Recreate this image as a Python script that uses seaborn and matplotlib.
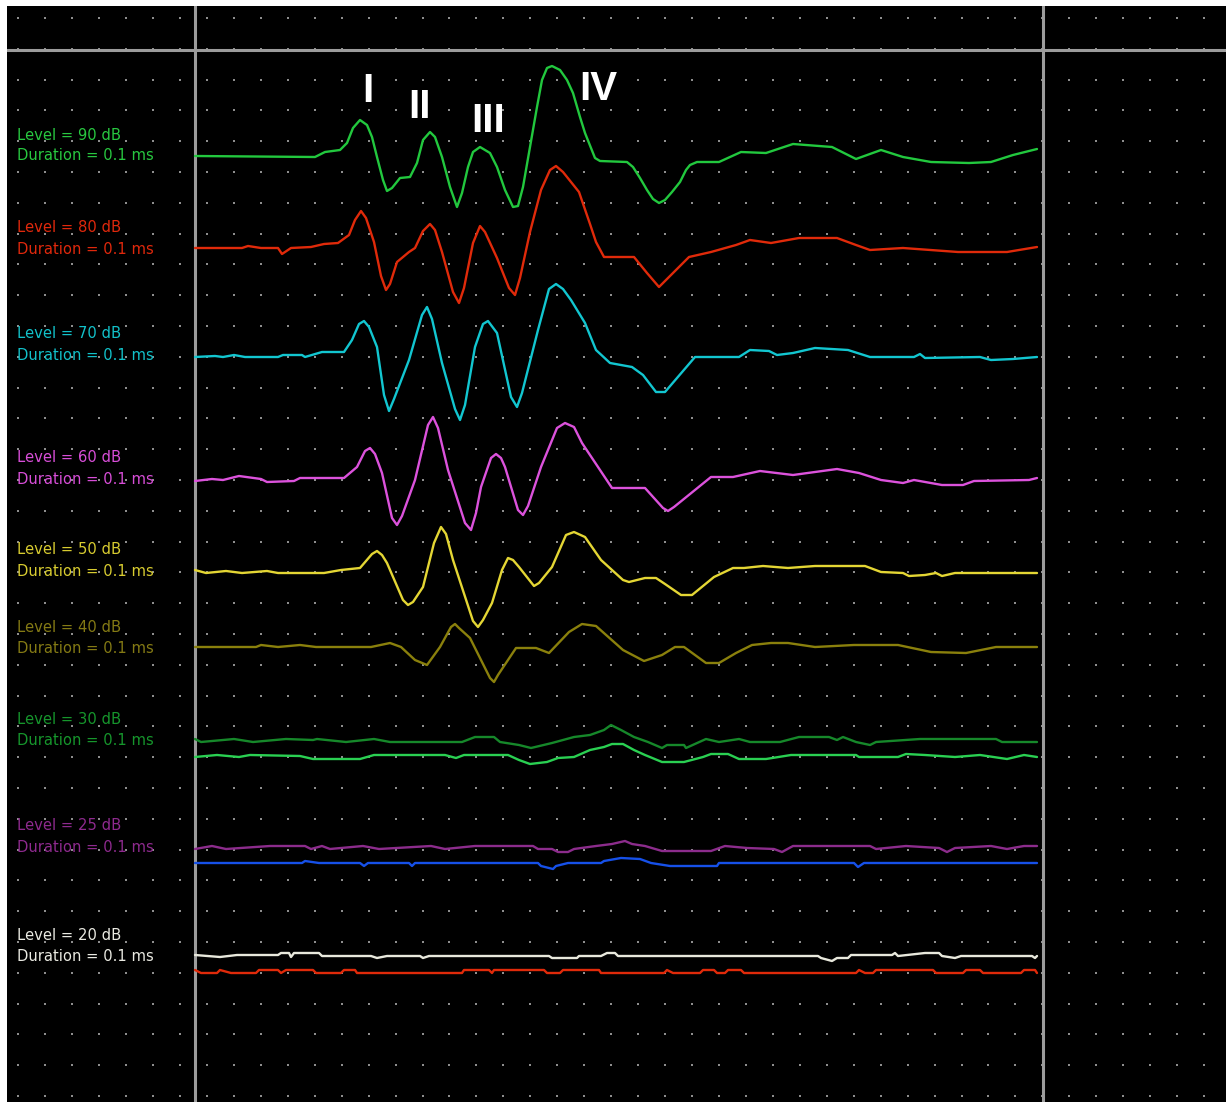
import numpy as np
import pandas as pd
import matplotlib
matplotlib.use("Agg")
import matplotlib.pyplot as plt
import seaborn as sns

# ---------------------------------------------------------------------------
# Stimulus settings
# ---------------------------------------------------------------------------
levels = [90, 80, 70, 60, 50, 40, 30, 25, 20]          # dB
duration_ms = 0.1
wave_names = ["I", "II", "III", "IV"]

# ---------------------------------------------------------------------------
# Averaged ABR sweeps: time (ms) and amplitude (uV)
# ---------------------------------------------------------------------------
t_90 = [0.00, 1.20, 1.30, 1.45, 1.52, 1.58, 1.65, 1.72, 1.77, 1.82, 1.88, 1.92, 1.97,
        2.05, 2.15, 2.22, 2.28, 2.35, 2.40, 2.47, 2.55, 2.62, 2.67, 2.73, 2.78, 2.85,
        2.95, 3.02, 3.10, 3.18, 3.23, 3.28, 3.35, 3.42, 3.47, 3.52, 3.57, 3.65, 3.72,
        3.78, 3.85, 3.90, 4.00, 4.05, 4.32, 4.38, 4.45, 4.52, 4.58, 4.64, 4.70, 4.77,
        4.85, 4.91, 4.95, 5.02, 5.24, 5.46, 5.71, 5.98, 6.37, 6.61, 6.86, 7.08, 7.36,
        7.74, 7.96, 8.18, 8.42]
a_90 = [0.00, -0.01, 0.04, 0.06, 0.13, 0.28, 0.36, 0.31, 0.19, -0.01, -0.24, -0.35, -0.32,
        -0.22, -0.21, -0.07, 0.16, 0.24, 0.19, -0.01, -0.31, -0.51, -0.37, -0.11, 0.04, 0.09,
        0.03, -0.11, -0.34, -0.51, -0.50, -0.31, 0.09, 0.49, 0.76, 0.88, 0.90, 0.86, 0.76,
        0.63, 0.39, 0.23, -0.02, -0.05, -0.06, -0.11, -0.22, -0.34, -0.43, -0.47, -0.44, -0.36,
        -0.26, -0.14, -0.09, -0.06, -0.06, 0.04, 0.03, 0.12, 0.09, -0.03, 0.06, -0.01, -0.06,
        -0.07, -0.06, 0.01, 0.07]

t_80 = [0.00, 0.47, 0.53, 0.66, 0.83, 0.87, 0.96, 1.16, 1.29, 1.43, 1.54, 1.60, 1.66,
        1.71, 1.79, 1.86, 1.91, 1.95, 2.02, 2.14, 2.20, 2.28, 2.35, 2.40, 2.47, 2.58,
        2.64, 2.69, 2.78, 2.85, 2.90, 3.02, 3.14, 3.20, 3.25, 3.35, 3.46, 3.55, 3.61,
        3.68, 3.84, 3.95, 4.01, 4.09, 4.39, 4.52, 4.64, 4.70, 4.94, 5.16, 5.41, 5.55,
        5.76, 6.04, 6.42, 6.61, 6.75, 7.08, 7.63, 8.12, 8.42]
a_80 = [0.00, 0.00, 0.02, 0.00, 0.00, -0.06, 0.00, 0.01, 0.04, 0.05, 0.13, 0.28, 0.37,
        0.30, 0.06, -0.28, -0.42, -0.36, -0.14, -0.04, 0.00, 0.17, 0.24, 0.18, -0.04, -0.44,
        -0.55, -0.40, 0.05, 0.22, 0.16, -0.10, -0.40, -0.47, -0.30, 0.16, 0.58, 0.78, 0.82,
        0.76, 0.56, 0.24, 0.06, -0.09, -0.09, -0.25, -0.39, -0.33, -0.09, -0.04, 0.03, 0.08,
        0.05, 0.10, 0.10, 0.03, -0.02, 0.00, -0.04, -0.04, 0.01]

t_70 = [0.00, 0.20, 0.28, 0.39, 0.50, 0.83, 0.88, 1.07, 1.10, 1.27, 1.49, 1.57, 1.64,
        1.69, 1.74, 1.82, 1.89, 1.94, 1.99, 2.14, 2.27, 2.32, 2.37, 2.47, 2.60, 2.65,
        2.70, 2.80, 2.88, 2.93, 3.02, 3.16, 3.22, 3.27, 3.43, 3.54, 3.61, 3.68, 3.76,
        3.90, 4.01, 4.15, 4.37, 4.48, 4.61, 4.70, 5.00, 5.44, 5.55, 5.74, 5.82, 5.98,
        6.20, 6.53, 6.75, 7.19, 7.25, 7.30, 7.85, 7.96, 8.18, 8.42]
a_70 = [0.00, 0.01, 0.00, 0.02, 0.00, 0.00, 0.02, 0.02, 0.00, 0.05, 0.05, 0.17, 0.33,
        0.36, 0.30, 0.10, -0.38, -0.54, -0.42, -0.03, 0.42, 0.50, 0.38, -0.06, -0.52, -0.63,
        -0.48, 0.10, 0.33, 0.36, 0.24, -0.40, -0.50, -0.36, 0.27, 0.68, 0.73, 0.68, 0.57,
        0.34, 0.07, -0.06, -0.10, -0.18, -0.35, -0.35, 0.00, 0.00, 0.07, 0.06, 0.02, 0.04,
        0.09, 0.07, 0.00, 0.00, 0.03, -0.01, 0.00, -0.03, -0.02, 0.00]

t_60 = [0.00, 0.17, 0.28, 0.44, 0.66, 0.72, 0.99, 1.05, 1.49, 1.62, 1.70, 1.75, 1.80,
        1.87, 1.97, 2.02, 2.07, 2.20, 2.33, 2.38, 2.43, 2.53, 2.70, 2.76, 2.81, 2.86,
        2.96, 3.01, 3.06, 3.10, 3.23, 3.28, 3.33, 3.46, 3.62, 3.70, 3.79, 3.87, 4.17,
        4.50, 4.68, 4.73, 4.79, 5.16, 5.38, 5.65, 5.98, 6.42, 6.64, 6.86, 7.08, 7.19,
        7.47, 7.68, 7.79, 8.34, 8.42]
a_60 = [-0.01, 0.01, 0.00, 0.04, 0.01, -0.02, -0.01, 0.02, 0.02, 0.13, 0.29, 0.32, 0.26,
        0.07, -0.38, -0.45, -0.36, 0.00, 0.55, 0.63, 0.52, 0.10, -0.43, -0.50, -0.33, -0.07,
        0.22, 0.26, 0.22, 0.13, -0.30, -0.35, -0.26, 0.13, 0.52, 0.57, 0.53, 0.37, -0.08,
        -0.08, -0.28, -0.31, -0.27, 0.03, 0.03, 0.09, 0.05, 0.11, 0.07, 0.00, -0.03, 0.00,
        -0.05, -0.05, -0.01, 0.00, 0.02]

t_50 = [0.00, 0.11, 0.31, 0.47, 0.72, 0.83, 1.29, 1.46, 1.65, 1.77, 1.82, 1.87, 1.92,
        2.08, 2.13, 2.18, 2.28, 2.39, 2.46, 2.51, 2.58, 2.78, 2.83, 2.88, 2.97, 3.07,
        3.13, 3.18, 3.24, 3.39, 3.44, 3.57, 3.71, 3.79, 3.90, 4.06, 4.28, 4.34, 4.50,
        4.61, 4.70, 4.86, 4.97, 5.19, 5.38, 5.49, 5.68, 5.93, 6.20, 6.70, 6.86, 7.08,
        7.14, 7.30, 7.41, 7.47, 7.60, 8.42]
a_50 = [0.02, -0.01, 0.01, -0.01, 0.01, -0.01, -0.01, 0.02, 0.04, 0.18, 0.21, 0.17, 0.09,
        -0.28, -0.33, -0.30, -0.15, 0.29, 0.45, 0.38, 0.12, -0.49, -0.55, -0.48, -0.31, 0.02,
        0.14, 0.12, 0.05, -0.14, -0.11, 0.05, 0.37, 0.40, 0.35, 0.12, -0.08, -0.10, -0.06,
        -0.06, -0.12, -0.23, -0.23, -0.05, 0.04, 0.04, 0.06, 0.04, 0.06, 0.06, 0.00, -0.01,
        -0.04, -0.03, -0.01, -0.04, -0.01, -0.01]

t_40 = [0.00, 0.61, 0.66, 0.83, 1.05, 1.21, 1.76, 1.95, 2.06, 2.20, 2.32, 2.45, 2.56,
        2.60, 2.64, 2.75, 2.86, 2.95, 2.99, 3.03, 3.21, 3.41, 3.54, 3.74, 3.87, 4.01,
        4.28, 4.49, 4.67, 4.80, 4.89, 5.11, 5.24, 5.41, 5.57, 5.76, 5.93, 6.20, 6.59,
        7.03, 7.36, 7.71, 8.01, 8.42]
a_40 = [0.00, 0.00, 0.02, 0.00, 0.02, 0.00, 0.00, 0.04, 0.00, -0.13, -0.18, 0.00, 0.20,
        0.23, 0.19, 0.09, -0.13, -0.31, -0.35, -0.28, -0.01, -0.01, -0.06, 0.15, 0.23, 0.21,
        -0.03, -0.14, -0.08, 0.00, 0.00, -0.16, -0.16, -0.06, 0.02, 0.04, 0.04, 0.00, 0.02,
        0.02, -0.05, -0.06, 0.00, 0.00]

t_30a = [0.00, 0.06, 0.39, 0.58, 0.91, 1.18, 1.22, 1.51, 1.79, 1.95, 2.67, 2.80, 2.99,
         3.05, 3.24, 3.36, 3.57, 3.79, 3.95, 4.09, 4.16, 4.26, 4.39, 4.53, 4.67, 4.72,
         4.89, 4.91, 5.11, 5.24, 5.44, 5.55, 5.85, 6.04, 6.34, 6.42, 6.48, 6.61, 6.75,
         6.81, 7.25, 8.01, 8.07, 8.42]
a_30a = [0.03, 0.00, 0.03, 0.00, 0.03, 0.02, 0.03, 0.00, 0.03, 0.00, 0.00, 0.05, 0.05,
         0.00, -0.03, -0.06, -0.01, 0.05, 0.07, 0.12, 0.17, 0.12, 0.05, 0.00, -0.06, -0.03,
         -0.03, -0.06, 0.03, 0.00, 0.03, 0.00, 0.00, 0.05, 0.05, 0.02, 0.05, 0.00, -0.03,
         0.00, 0.03, 0.03, 0.00, 0.00]

t_30b = [0.00, 0.22, 0.44, 0.55, 1.05, 1.18, 1.65, 1.79, 2.50, 2.61, 2.69, 3.13, 3.24,
         3.35, 3.52, 3.63, 3.79, 3.95, 4.09, 4.17, 4.28, 4.39, 4.50, 4.67, 4.89, 5.08,
         5.16, 5.33, 5.44, 5.71, 5.96, 6.61, 6.64, 7.03, 7.11, 7.30, 7.60, 7.85, 8.12,
         8.29, 8.42]
a_30b = [0.00, 0.02, 0.00, 0.02, 0.01, -0.02, -0.02, 0.02, 0.02, -0.01, 0.02, 0.02, -0.03,
         -0.07, -0.05, -0.01, 0.00, 0.07, 0.10, 0.13, 0.13, 0.07, 0.02, -0.05, -0.05, 0.00,
         0.03, 0.03, -0.02, -0.02, 0.02, 0.02, 0.00, 0.00, 0.03, 0.02, 0.00, 0.02, -0.02,
         0.02, 0.00]

t_25a = [0.00, 0.17, 0.31, 0.75, 1.10, 1.16, 1.27, 1.35, 1.68, 1.84, 2.36, 2.50, 2.80,
         3.38, 3.43, 3.57, 3.63, 3.73, 3.79, 4.01, 4.17, 4.30, 4.37, 4.50, 4.67, 5.16,
         5.30, 5.52, 5.79, 5.87, 5.98, 6.75, 6.81, 7.11, 7.44, 7.52, 7.60, 7.96, 8.12,
         8.29, 8.42]
a_25a = [-0.01, 0.02, -0.01, 0.02, 0.02, -0.01, 0.02, -0.01, 0.02, -0.01, 0.02, -0.01, 0.02,
         0.02, -0.01, -0.01, -0.04, -0.04, -0.01, 0.02, 0.04, 0.07, 0.04, 0.02, -0.03, -0.03,
         0.02, 0.00, -0.01, -0.04, 0.02, 0.02, -0.01, 0.02, 0.00, -0.04, 0.00, 0.02, -0.01,
         0.02, 0.02]

t_25b = [0.00, 1.07, 1.10, 1.24, 1.65, 1.69, 1.73, 2.14, 2.17, 2.20, 3.43, 3.46, 3.58,
         3.61, 3.73, 4.06, 4.09, 4.26, 4.45, 4.56, 4.75, 5.22, 5.24, 6.59, 6.63, 6.69, 8.42]
a_25b = [0.00, 0.00, 0.02, 0.00, 0.00, -0.03, 0.00, 0.00, -0.03, 0.00, 0.00, -0.03, -0.06,
         -0.03, 0.00, 0.00, 0.02, 0.05, 0.04, 0.00, -0.03, -0.03, 0.00, 0.00, -0.04, 0.00, 0.00]

t_20a = [0.00, 0.25, 0.42, 0.83, 0.86, 0.94, 0.96, 0.99, 1.24, 1.27, 1.76, 1.82, 1.92,
         2.25, 2.28, 2.34, 3.54, 3.57, 3.82, 3.84, 4.06, 4.12, 4.20, 4.23, 6.23, 6.26,
         6.37, 6.42, 6.53, 6.56, 6.97, 7.00, 7.03, 7.30, 7.44, 7.47, 7.60, 7.66, 8.37,
         8.40, 8.42]
a_20a = [0.01, -0.01, 0.01, 0.01, 0.03, 0.03, -0.01, 0.03, 0.03, 0.00, 0.00, -0.02, 0.00,
         0.00, -0.02, 0.00, 0.00, -0.02, -0.02, 0.00, 0.00, 0.03, 0.03, 0.00, 0.00, -0.02,
         -0.05, -0.02, -0.02, 0.01, 0.01, 0.03, 0.00, 0.03, 0.03, 0.00, -0.02, 0.00, 0.00,
         -0.02, 0.00]

t_20b = [0.00, 0.06, 0.22, 0.25, 0.36, 0.61, 0.64, 0.83, 0.86, 0.91, 1.18, 1.21, 1.46,
         1.49, 1.60, 1.62, 2.67, 2.69, 2.94, 2.97, 2.99, 3.49, 3.52, 3.65, 3.68, 4.04,
         4.06, 4.69, 4.72, 4.78, 5.05, 5.08, 5.19, 5.22, 5.30, 5.33, 5.46, 5.49, 6.61,
         6.64, 6.70, 6.78, 6.81, 7.38, 7.41, 7.68, 7.71, 7.85, 7.88, 8.26, 8.29, 8.40, 8.42]
a_20b = [0.01, -0.02, -0.02, 0.01, -0.02, -0.02, 0.01, 0.01, -0.02, 0.01, 0.01, -0.02, -0.02,
         0.01, 0.01, -0.02, -0.02, 0.01, 0.01, -0.02, 0.01, 0.01, -0.02, -0.02, 0.01, 0.01,
         -0.02, -0.02, 0.01, -0.02, -0.02, 0.01, 0.01, -0.02, -0.02, 0.01, 0.01, -0.02, -0.02,
         0.01, -0.02, -0.02, 0.01, 0.01, -0.02, -0.02, 0.01, 0.01, -0.02, -0.02, 0.01, 0.01, -0.02]

sweeps = {
    "90": (t_90, a_90), "80": (t_80, a_80), "70": (t_70, a_70), "60": (t_60, a_60),
    "50": (t_50, a_50), "40": (t_40, a_40),
    "30a": (t_30a, a_30a), "30b": (t_30b, a_30b),
    "25a": (t_25a, a_25a), "25b": (t_25b, a_25b),
    "20a": (t_20a, a_20a), "20b": (t_20b, a_20b),
}

# ---------------------------------------------------------------------------
# Display layout (screen-style stacked traces, 1 uV per 100 px, 1 ms per 100 px)
# ---------------------------------------------------------------------------
W, H = 1226, 1102
PX = 100.0                                   # px per ms and px per uV
X0 = 195                                     # sweep start (px)
def tx(px):                                  # px column -> ms
    return (px - X0) / PX
def ty(px):                                  # px row -> display units
    return -px / PX

trace_rows = {"90": 156, "80": 248, "70": 357, "60": 480, "50": 572, "40": 647,
              "30a": 742, "30b": 757, "25a": 848, "25b": 863, "20a": 956, "20b": 971}
trace_colors = {"90": "#22c83e", "80": "#e02a0a", "70": "#12c6d0", "60": "#dc52dc",
                "50": "#e4d634", "40": "#8a800c", "30a": "#16882a", "30b": "#2ad052",
                "25a": "#8c2c8c", "25b": "#1650e8", "20a": "#e8e8dc", "20b": "#e02a0a"}
label_colors = ["#28c840", "#e0280c", "#12c2ca", "#d84ed8", "#d8cc30",
                "#847a14", "#16962c", "#8e2a8e", "#eaeae2"]
label_rows = [(135, 155), (228, 249), (334, 356), (457, 479), (549, 571),
              (627, 648), (719, 740), (825, 847), (935, 956)]
wave_label_pos = [(368, 91), (420, 107), (488, 121), (598, 89)]

# long-form table for seaborn
rows = []
for name, (tt, aa) in sweeps.items():
    base = ty(trace_rows[name])
    for t, a in zip(tt, aa):
        rows.append({"trace": name, "time_ms": t, "amp_uV": a, "y": base + a})
df = pd.DataFrame(rows)

# ---------------------------------------------------------------------------
# Figure
# ---------------------------------------------------------------------------
sns.set_theme(style="dark")
plt.rcParams["font.family"] = ["DejaVu Sans"]

fig = plt.figure(figsize=(W / 100, H / 100), dpi=100, facecolor="white")
ax = fig.add_axes([7 / W, 0, (W - 7) / W, (H - 6) / H])
ax.set_facecolor("black")
ax.set_axis_off()
ax.add_patch(plt.Rectangle((tx(7), ty(H)), tx(W) - tx(7), ty(6) - ty(H),
                           facecolor="black", edgecolor="none", zorder=0))

# dotted screen grid
gx = tx(18.3 + 26.95 * np.arange(45))
gy = ty(18 + 30.8 * np.arange(36))
GX, GY = np.meshgrid(gx, gy)
ax.plot(GX.ravel(), GY.ravel(), linestyle="none", marker="s", markersize=1.5,
        markeredgewidth=0, color="#8e8e8e", zorder=1)

# cursor / frame lines
ax.axhline(ty(50), color="#9c9c9c", lw=2.2, zorder=2)
ax.axvline(tx(195), color="#9c9c9c", lw=2.2, zorder=2)
ax.axvline(tx(1043), color="#9c9c9c", lw=2.2, zorder=2)

# sweeps
sns.lineplot(data=df, x="time_ms", y="y", hue="trace", palette=trace_colors,
             units="trace", estimator=None, sort=False, legend=False,
             linewidth=1.7, ax=ax, zorder=3)
ax.set_xlim(tx(7), tx(W))
ax.set_ylim(ty(H), ty(6))

# level / duration captions
for lev, col, (yl, yd) in zip(levels, label_colors, label_rows):
    ax.text(tx(17), ty(yl), f"Level = {lev} dB", color=col, fontsize=10.6,
            ha="left", va="center", zorder=4)
    ax.text(tx(17), ty(yd), f"Duration = {duration_ms} ms", color=col, fontsize=10.6,
            ha="left", va="center", zorder=4)

# wave labels
for name, (px, py) in zip(wave_names, wave_label_pos):
    ax.text(tx(px), ty(py), name, color="white", fontsize=29, fontweight="bold",
            family=["Liberation Sans", "DejaVu Sans"], ha="center", va="center", zorder=4)

fig.savefig("out.png", dpi=100, facecolor="white")
